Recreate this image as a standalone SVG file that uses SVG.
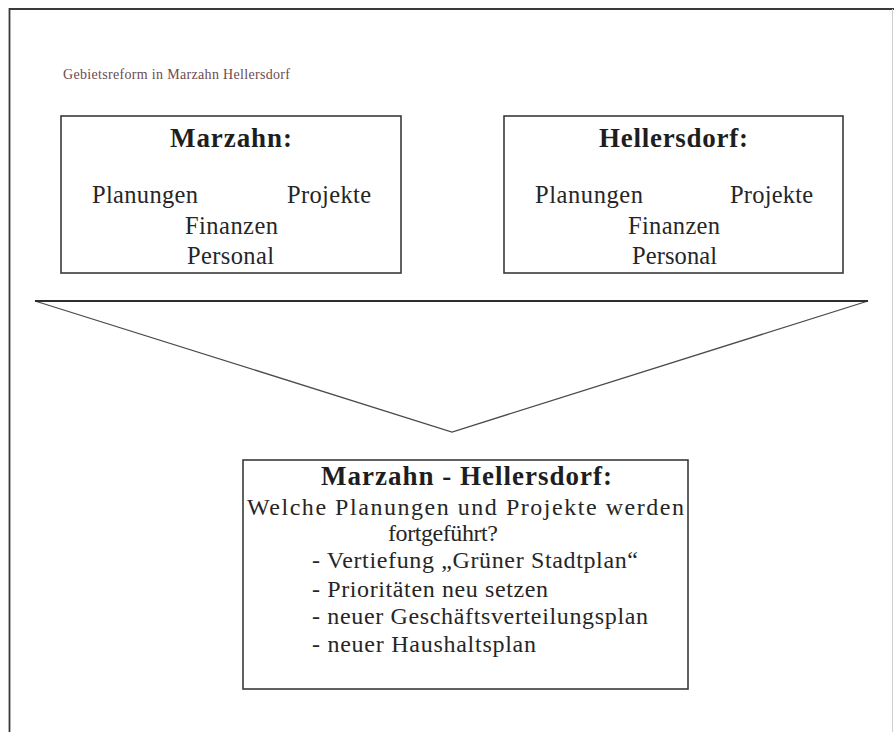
<svg xmlns="http://www.w3.org/2000/svg" width="894" height="732" viewBox="0 0 894 732">
<style>
  text { font-family: "Liberation Serif", "Times New Roman", serif; fill: #262626; }
  .title { font-size: 14px; fill: #6e4a4f; }
  .head { font-size: 27px; font-weight: bold; fill: #1e1e1e; }
  .item { font-size: 24.5px; }
  .body { font-size: 24px; }
  .box { fill: #ffffff; stroke: #3a3a3a; stroke-width: 1.6; }
</style>
<rect width="894" height="732" fill="#ffffff"/>
<g id="frame">
  <path d="M9.5,732 V9 H894" fill="none" stroke="#3a3a3a" stroke-width="1.8"/>
  <line x1="892.5" y1="9" x2="892.5" y2="732" stroke="#cfcfcf" stroke-width="1"/>
</g>
<g id="caption">
  <text class="title" x="63" y="79" textLength="227" lengthAdjust="spacing">Gebietsreform in Marzahn Hellersdorf</text>
</g>
<g id="marzahn">
  <rect class="box" x="61" y="116" width="340" height="157"/>
  <text class="head" x="170" y="147" textLength="122" lengthAdjust="spacing">Marzahn:</text>
  <text class="item" x="92" y="203" textLength="106" lengthAdjust="spacing">Planungen</text>
  <text class="item" x="287" y="203" textLength="84" lengthAdjust="spacing">Projekte</text>
  <text class="item" x="185" y="234" textLength="93" lengthAdjust="spacing">Finanzen</text>
  <text class="item" x="187" y="264" textLength="87" lengthAdjust="spacing">Personal</text>
</g>
<g id="hellersdorf">
  <rect class="box" x="504" y="116" width="339" height="157"/>
  <text class="head" x="599" y="147" textLength="149" lengthAdjust="spacing">Hellersdorf:</text>
  <text class="item" x="535" y="203" textLength="108" lengthAdjust="spacing">Planungen</text>
  <text class="item" x="730" y="203" textLength="83" lengthAdjust="spacing">Projekte</text>
  <text class="item" x="628" y="234" textLength="92" lengthAdjust="spacing">Finanzen</text>
  <text class="item" x="632" y="264" textLength="85" lengthAdjust="spacing">Personal</text>
</g>
<g id="connectors">
  <polygon points="35,301 868,301 452,432" fill="none" stroke="#4a4a4a" stroke-width="1.3" stroke-linejoin="miter"/>
  <line x1="35" y1="301" x2="868" y2="301" stroke="#2e2e2e" stroke-width="2.2"/>
</g>
<g id="marzahn-hellersdorf">
  <rect class="box" x="243" y="460" width="445" height="229"/>
  <text class="head" x="321" y="485" textLength="291" lengthAdjust="spacing">Marzahn - Hellersdorf:</text>
  <text class="body" x="247" y="515" textLength="437" lengthAdjust="spacing">Welche Planungen und Projekte werden</text>
  <text class="body" x="388" y="541" textLength="110" lengthAdjust="spacing">fortgeführt?</text>
  <text class="body" x="312" y="568" textLength="326" lengthAdjust="spacing">- Vertiefung „Grüner Stadtplan“</text>
  <text class="body" x="312" y="597" textLength="236" lengthAdjust="spacing">- Prioritäten neu setzen</text>
  <text class="body" x="312" y="624" textLength="336" lengthAdjust="spacing">- neuer Geschäftsverteilungsplan</text>
  <text class="body" x="312" y="652" textLength="224" lengthAdjust="spacing">- neuer Haushaltsplan</text>
</g>
</svg>
